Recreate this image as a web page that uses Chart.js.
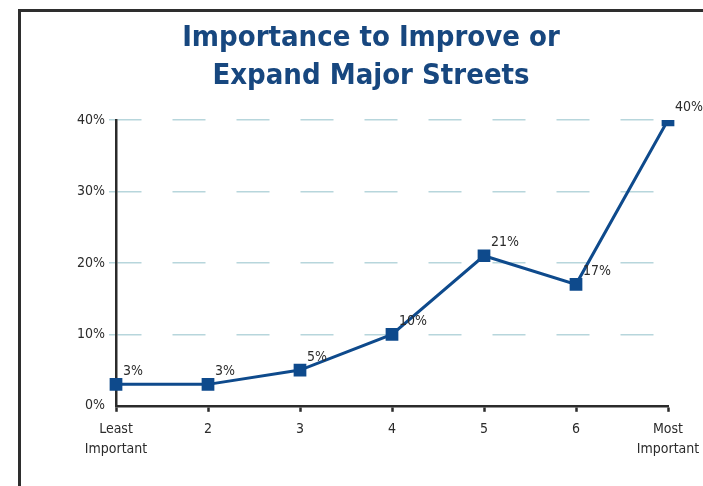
<!DOCTYPE html>
<html>
<head>
<meta charset="utf-8">
<script src="https://cdn.jsdelivr.net/npm/chart.js@4/dist/chart.umd.min.js"></script>
<style>
  html, body { margin: 0; padding: 0; background: #fff; }
  #wrap { position: relative; width: 703px; height: 486px; }
  #frame {
    position: absolute; left: 18px; top: 9px; right: 0; bottom: 0;
    border-left: 3px solid #2e2e2e; border-top: 3px solid #2e2e2e;
  }
  #myChart { position: absolute; left: 0; top: 0; }
</style>
</head>
<body>
<div id="wrap">
  <div id="frame"></div>
  <canvas id="myChart" width="703" height="486"></canvas>
</div>
<script>
const ctx = document.getElementById('myChart');

const categories = [["Least", "Important"], "2", "3", "4", "5", "6", ["Most", "Important"]];
const shares = [3, 3, 5, 10, 21, 17, 40];
const yTicks = [0, 10, 20, 30, 40];

const narrow = '"Liberation Sans Narrow", "DejaVu Sans Condensed", sans-serif';
const navy = '#0e4a8c';
const ink = '#2b2b2b';
const gridBlue = '#b7d6dc';

// percentage labels next to each point
const pointLabels = {
  id: 'pointLabels',
  afterDatasetsDraw(chart) {
    const c = chart.ctx;
    const meta = chart.getDatasetMeta(0);
    c.save();
    c.font = '14px ' + narrow;
    c.fillStyle = ink;
    c.textAlign = 'left';
    c.textBaseline = 'middle';
    meta.data.forEach((pt, i) => {
      c.fillText(shares[i] + '%', pt.x + 7, pt.y - 13);
    });
    c.restore();
  }
};

new Chart(ctx, {
  type: 'line',
  data: {
    labels: categories,
    datasets: [{
      data: shares,
      borderColor: navy,
      backgroundColor: navy,
      borderWidth: 3,
      pointStyle: 'rect',
      pointRadius: 9,
      pointHoverRadius: 9,
      pointBorderWidth: 0,
      tension: 0,
      fill: false
    }]
  },
  options: {
    responsive: false,
    animation: false,
    layout: { padding: { left: 41, right: 2, top: 0, bottom: 19 } },
    scales: {
      x: {
        offset: false,
        // let the last label hang a little past the plot edge
        afterFit(scale) {
          scale.paddingRight = 35;
        },
        border: { color: ink, width: 2.5 },
        grid: {
          drawOnChartArea: false,
          drawTicks: true,
          tickLength: 6,
          tickColor: ink,
          tickWidth: 2.5
        },
        ticks: {
          color: ink,
          padding: 8,
          maxRotation: 0,
          autoSkip: false,
          font: { family: narrow, size: 14, lineHeight: 1.4 }
        }
      },
      y: {
        min: 0,
        max: 40,
        afterBuildTicks(scale) {
          scale.ticks = yTicks.map(v => ({ value: v }));
        },
        // fixed axis width keeps the plot edge put while the title stays centred
        afterFit(scale) {
          scale.width = 75;
        },
        // border.dash also dashes the grid lines in v4
        border: { color: ink, width: 2.5, dash: [33, 31], dashOffset: 9 },
        grid: {
          color: c => c.tick && c.tick.value === 0 ? 'rgba(0,0,0,0)' : gridBlue,
          tickColor: c => c.tick && c.tick.value === 0 ? 'rgba(0,0,0,0)' : gridBlue,
          lineWidth: 1.5,
          tickWidth: 1.5,
          tickLength: 7
        },
        ticks: {
          color: ink,
          padding: 4,
          font: { family: narrow, size: 14 },
          callback: v => v + '%'
        }
      }
    },
    plugins: {
      legend: { display: false },
      tooltip: { enabled: false },
      title: {
        display: true,
        text: ['Importance to Improve or', 'Expand Major Streets'],
        color: '#17477f',
        font: { family: narrow, size: 29, weight: 'bold', lineHeight: '38px' },
        padding: { top: 19, bottom: 25 }
      }
    }
  },
  plugins: [pointLabels]
});
</script>
</body>
</html>
